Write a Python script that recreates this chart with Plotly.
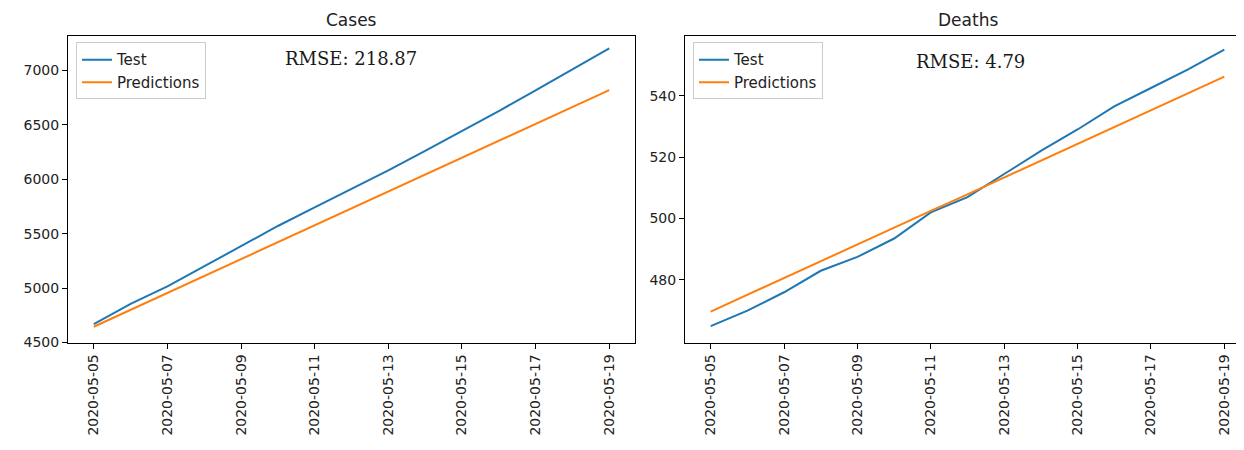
import plotly.graph_objects as go

dates = ["2020-05-%02d" % d for d in range(5, 20)]
tick_dates = dates[::2]

cases_test = [4670, 4855, 5015, 5200, 5385, 5570, 5740, 5910, 6080, 6260, 6440, 6625, 6815, 7010, 7200]
cases_pred = [4645, 4800, 4956, 5112, 5267, 5423, 5578, 5734, 5889, 6045, 6200, 6356, 6511, 6667, 6817]

deaths_test = [465, 470, 476, 483, 487.5, 493.5, 502, 507, 514.5, 522, 529, 536.5, 542.5, 548.5, 555]
deaths_pred = [469.7, 475.2, 480.6, 486.1, 491.6, 497.0, 502.5, 507.9, 513.4, 518.8, 524.3, 529.8, 535.2, 540.7, 546.2]

titles = ["Cases", "Deaths"]
rmse_texts = ["RMSE: 218.87", "RMSE: 4.79"]
cases_yticks = [4500, 5000, 5500, 6000, 6500, 7000]
deaths_yticks = [480, 500, 520, 540]

BLUE = "#1f77b4"
ORANGE = "#ff7f0e"
W, H = 1244, 450

fig = go.Figure()
fig.add_trace(go.Scatter(x=dates, y=cases_test, mode="lines", name="Test",
                         line=dict(color=BLUE, width=2), xaxis="x", yaxis="y", legend="legend"))
fig.add_trace(go.Scatter(x=dates, y=cases_pred, mode="lines", name="Predictions",
                         line=dict(color=ORANGE, width=2), xaxis="x", yaxis="y", legend="legend"))
fig.add_trace(go.Scatter(x=dates, y=deaths_test, mode="lines", name="Test",
                         line=dict(color=BLUE, width=2), xaxis="x2", yaxis="y2", legend="legend2"))
fig.add_trace(go.Scatter(x=dates, y=deaths_pred, mode="lines", name="Predictions",
                         line=dict(color=ORANGE, width=2), xaxis="x2", yaxis="y2", legend="legend2"))

ydom = [1 - 340.7 / H, 1 - 28.3 / H]
xr = ["2020-05-04 07:12", "2020-05-19 16:48"]
tickfont = dict(family="DejaVu Sans", size=14, color="#222")
common_x = dict(type="date", range=xr, tickvals=tick_dates, ticktext=tick_dates,
                tickangle=-90, showline=True, mirror=True, linecolor="black", linewidth=1,
                ticks="outside", ticklen=5, tickcolor="black", showgrid=False, zeroline=False,
                tickfont=tickfont)
common_y = dict(showline=True, mirror=True, linecolor="black", linewidth=1,
                ticks="outside", ticklen=5, tickcolor="black", showgrid=False, zeroline=False,
                tickfont=tickfont)

legend_style = dict(bgcolor="white", bordercolor="#cccccc", borderwidth=1,
                    font=dict(family="DejaVu Sans", size=15, color="#222"),
                    xanchor="left", yanchor="top", itemwidth=30)

fig.update_layout(
    width=W, height=H, autosize=False,
    margin=dict(l=0, r=0, t=0, b=0),
    paper_bgcolor="white", plot_bgcolor="white",
    xaxis=dict(domain=[60 / W, 627 / W], anchor="y", **common_x),
    yaxis=dict(domain=ydom, anchor="x", range=[4499, 7316], tickvals=cases_yticks, **common_y),
    xaxis2=dict(domain=[677 / W, 1242 / W], anchor="y2", **common_x),
    yaxis2=dict(domain=ydom, anchor="x2", range=[459.6, 559.5], tickvals=deaths_yticks, **common_y),
    legend=dict(x=68 / W, y=1 - 35 / H, **legend_style),
    legend2=dict(x=685 / W, y=1 - 35 / H, **legend_style),
    showlegend=True,
)

title_x = [(60 + 627) / 2 / W, (677 + 1242) / 2 / W]
for t, xc in zip(titles, title_x):
    fig.add_annotation(text=t, x=xc, y=1 - 12 / H, xref="paper", yref="paper",
                       xanchor="center", yanchor="middle", showarrow=False,
                       font=dict(family="DejaVu Sans", size=17, color="#222"))

rmse_pos = [(275 / W, 1 - 51 / H), (906 / W, 1 - 54 / H)]
for t, (xp, yp) in zip(rmse_texts, rmse_pos):
    fig.add_annotation(text=t, x=xp, y=yp, xref="paper", yref="paper",
                       xanchor="left", yanchor="middle", showarrow=False,
                       font=dict(family="DejaVu Serif", size=18, color="#1a1a1a"))

fig.write_html("out.html")
